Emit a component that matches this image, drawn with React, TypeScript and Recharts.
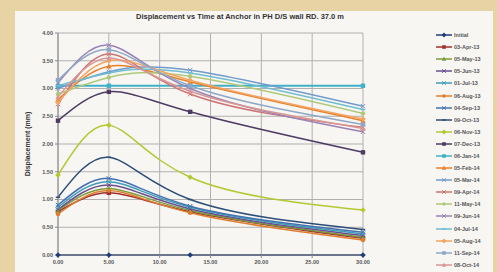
import React from 'react';
import { LineChart, Line, XAxis, YAxis, CartesianGrid, Legend } from 'recharts';

const times = [0, 5, 13, 30];
const xTicks = [0, 5, 10, 15, 20, 25, 30];
const yTicks = [0, 0.5, 1, 1.5, 2, 2.5, 3, 3.5, 4];

const seriesNames = [
    'Initial', '03-Apr-13', '05-May-13', '05-Jun-13', '01-Jul-13', '06-Aug-13', '04-Sep-13',
    '09-Oct-13', '06-Nov-13', '07-Dec-13', '06-Jan-14', '05-Feb-14', '05-Mar-14', '09-Apr-14',
    '11-May-14', '09-Jun-14', '04-Jul-14', '05-Aug-14', '11-Sep-14', '08-Oct-14',
];

// displacement (mm) at each time above, one array per reading
const initial = [0, 0, 0, 0];
const apr13 = [0.78, 1.12, 0.78, 0.3];
const may13 = [0.8, 1.2, 0.8, 0.32];
const jun13 = [0.82, 1.26, 0.83, 0.35];
const jul13 = [0.86, 1.32, 0.86, 0.38];
const aug13 = [0.74, 1.16, 0.76, 0.27];
const sep13 = [0.9, 1.38, 0.88, 0.41];
const oct13 = [1.04, 1.76, 1.0, 0.46];
const nov13 = [1.44, 2.34, 1.4, 0.81];
const dec13 = [2.42, 2.94, 2.58, 1.85];
const jan14 = [3.05, 3.05, 3.05, 3.05];
const feb14 = [2.8, 3.4, 3.12, 2.42];
const mar14 = [3.0, 3.3, 3.33, 2.68];
const apr14 = [2.72, 3.62, 2.9, 2.3];
const may14 = [2.9, 3.2, 3.22, 2.55];
const jun14 = [3.1, 3.78, 3.0, 2.22];
const jul14 = [3.05, 3.28, 3.28, 2.62];
const aug14 = [2.75, 3.5, 3.15, 2.45];
const sep14 = [3.15, 3.7, 3.05, 2.35];
const oct14 = [2.85, 3.55, 2.95, 2.28];

const seriesValues = [
    initial, apr13, may13, jun13, jul13, aug13, sep13, oct13, nov13, dec13,
    jan14, feb14, mar14, apr14, may14, jun14, jul14, aug14, sep14, oct14,
];

const colors = [
    '#1F3D7A', '#A0302D', '#7E9B3A', '#6A4F8E', '#3E9DB8', '#E07E2E', '#4472B0',
    '#2C4D75', '#B5C832', '#4D3B62', '#3FB0C8', '#E8802A', '#729ACA', '#CD7371',
    '#AFC97A', '#9983B5', '#6FBDD1', '#F4A460', '#8EA9C8', '#D99694',
];
const shapes = ['diamond', 'square', 'triangle', 'cross', 'cross', 'circle', 'cross',
    'dash', 'diamond', 'square', 'square', 'triangle', 'cross', 'cross', 'circle',
    'cross', 'dash', 'diamond', 'square', 'triangle'];

const series = seriesNames.map((name, i) => ({
    name,
    color: colors[i],
    shape: shapes[i],
    data: times.map((t, j) => ({ t, v: seriesValues[i][j] })),
}));

const Marker = ({ cx, cy, color, shape, size = 2.2 }: any) => {
    if (cx == null || cy == null) return null;
    const s = size;
    if (shape === 'square') return <rect x={cx - s} y={cy - s} width={s * 2} height={s * 2} fill={color} />;
    if (shape === 'diamond') return <polygon points={`${cx},${cy - s - 0.6} ${cx + s + 0.6},${cy} ${cx},${cy + s + 0.6} ${cx - s - 0.6},${cy}`} fill={color} />;
    if (shape === 'triangle') return <polygon points={`${cx},${cy - s - 0.6} ${cx + s + 0.4},${cy + s} ${cx - s - 0.4},${cy + s}`} fill={color} />;
    if (shape === 'circle') return <circle cx={cx} cy={cy} r={s} fill={color} />;
    if (shape === 'dash') return <rect x={cx - s} y={cy - 0.7} width={s * 2} height={1.4} fill={color} />;
    return <path d={`M${cx - s},${cy - s}L${cx + s},${cy + s}M${cx - s},${cy + s}L${cx + s},${cy - s}`} stroke={color} strokeWidth={1} />;
};

const LegendBox = () => (
    <div style={{ display: 'flex', flexDirection: 'column' }}>
        {series.map((s) => (
            <div key={s.name} style={{ display: 'flex', alignItems: 'center', height: 12.1 }}>
                <svg width={16} height={8}>
                    <line x1={0} y1={4} x2={16} y2={4} stroke={s.color} strokeWidth={1.5} />
                    <Marker cx={8} cy={4} color={s.color} shape={s.shape} size={1.8} />
                </svg>
                <span style={{ fontSize: 5.5, fontWeight: 700, color: '#555', marginLeft: 2, whiteSpace: 'nowrap' }}>{s.name}</span>
            </div>
        ))}
    </div>
);

const fmt = (v: number) => v.toFixed(2);

export default function App() {
    return (
        <div style={{ position: 'fixed', left: 0, top: 0, width: 497, height: 272, background: '#E8D3A4', fontFamily: '"Liberation Sans", Arial, sans-serif' }}>
            <div style={{ position: 'absolute', left: 15, top: 11, width: 478, height: 261, background: '#F7F6F3' }} />
            <div style={{ position: 'absolute', left: 60, width: 360, top: 12, textAlign: 'center', fontSize: 7.5, fontWeight: 700, color: '#333' }}>
                Displacement vs Time at Anchor in PH D/S wall RD. 37.0 m
            </div>
            <div style={{ position: 'absolute', left: 0, top: 0 }}>
                <LineChart width={497} height={272} margin={{ top: 33, right: 74, bottom: 0, left: 0 }}>
                    <CartesianGrid stroke="#B0B0B0" strokeWidth={1} horizontal vertical />
                    <XAxis
                        dataKey="t"
                        type="number"
                        domain={[0, 30]}
                        ticks={xTicks}
                        tickFormatter={fmt}
                        height={17}
                        allowDuplicatedCategory={false}
                        stroke="#8A8A8A"
                        tickSize={3}
                        tick={{ fontSize: 5.5, fontWeight: 700, fill: '#555' }}
                    />
                    <YAxis
                        type="number"
                        domain={[0, 4]}
                        ticks={yTicks}
                        tickFormatter={fmt}
                        width={58}
                        stroke="#8A8A8A"
                        tickSize={3}
                        tick={{ fontSize: 5.5, fontWeight: 700, fill: '#555' }}
                        label={{ value: 'Displacement (mm)', angle: -90, position: 'insideLeft', offset: 28, style: { fontSize: 7, fontWeight: 700, fill: '#333', textAnchor: 'middle' } }}
                    />
                    <Legend
                        layout="vertical"
                        align="right"
                        verticalAlign="top"
                        content={() => <LegendBox />}
                        wrapperStyle={{ position: 'absolute', left: 436, top: 29, width: 60 }}
                    />
                    {series.map((s) => (
                        <Line
                            key={s.name}
                            data={s.data}
                            dataKey="v"
                            name={s.name}
                            type="natural"
                            stroke={s.color}
                            strokeWidth={s.name === '06-Jan-14' ? 2 : 1.5}
                            dot={(p: any) => <Marker key={`${s.name}-${p.index}`} cx={p.cx} cy={p.cy} color={s.color} shape={s.shape} />}
                            activeDot={false}
                            isAnimationActive={false}
                        />
                    ))}
                </LineChart>
            </div>
        </div>
    );
}
